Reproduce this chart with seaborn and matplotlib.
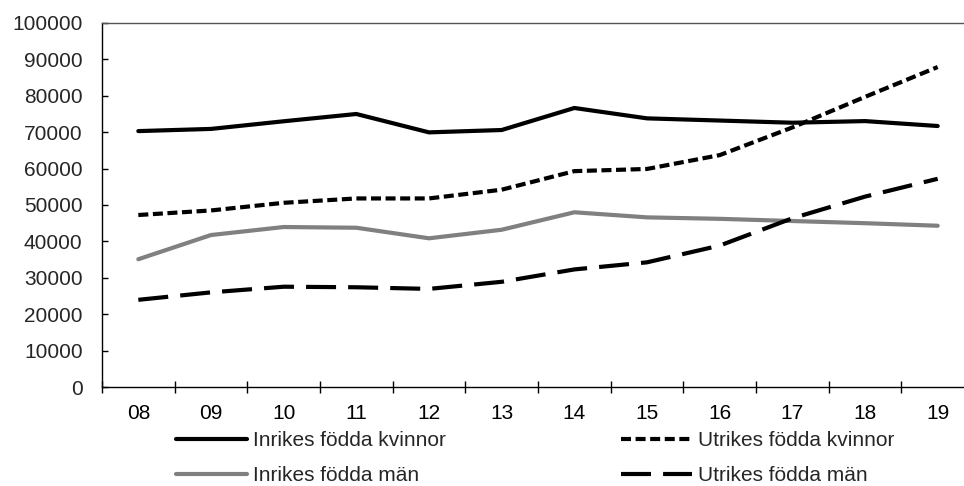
import numpy as np
import pandas as pd
import matplotlib
matplotlib.use("Agg")
from matplotlib import pyplot as plt
from matplotlib.ticker import FixedLocator
import seaborn as sns

years = ['08', '09', '10', '11', '12', '13', '14', '15', '16', '17', '18', '19']

inrikes_kvinnor = [70300, 70900, 73000, 75000, 69950, 70600, 76650, 73800, 73200, 72600, 73050, 71700]
utrikes_kvinnor = [47250, 48500, 50600, 51800, 51800, 54200, 59300, 59900, 63700, 71300, 79700, 87900]
inrikes_man = [35100, 41750, 43950, 43750, 40850, 43200, 48000, 46600, 46200, 45600, 45000, 44300]
utrikes_man = [23950, 26000, 27550, 27400, 26950, 28900, 32300, 34250, 38850, 46350, 52300, 57200]

labels = ['Inrikes födda kvinnor', 'Utrikes födda kvinnor', 'Inrikes födda män', 'Utrikes födda män']

sns.set_theme(style='white')
plt.rcParams['font.family'] = ['Liberation Sans', 'DejaVu Sans']

fig = plt.figure(figsize=(9.64, 4.86), dpi=100)
ax = fig.add_axes([0.1058, 0.2037, 0.9046, 0.749])

styles = {
    'Inrikes födda kvinnor': dict(color='black', linestyle='-'),
    'Utrikes födda kvinnor': dict(color='black', linestyle=(0, (2.4, 1.1))),
    'Inrikes födda män': dict(color='#808080', linestyle='-'),
    'Utrikes födda män': dict(color='black', linestyle=(0, (7.2, 2.9))),
}
series = dict(zip(labels, [inrikes_kvinnor, utrikes_kvinnor, inrikes_man, utrikes_man]))

for name, vals in series.items():
    df = pd.DataFrame({'year': years, 'value': vals})
    sns.lineplot(data=df, x='year', y='value', ax=ax, label=name,
                 linewidth=3, sort=False, **styles[name])

ax.set_ylim(0, 100000)
ax.set_xlim(-0.5, 11.5)
ax.set_yticks(np.arange(0, 100001, 10000))
ax.set_xlabel('')
ax.set_ylabel('')

for side in ['left', 'bottom', 'top']:
    ax.spines[side].set_visible(True)
    ax.spines[side].set_color('black')
    ax.spines[side].set_linewidth(1)
ax.spines['top'].set_color('#555555')
ax.spines['right'].set_visible(False)

ax.xaxis.set_minor_locator(FixedLocator(np.arange(-0.5, 12, 1)))
ax.tick_params(axis='x', which='major', length=0, pad=12, labelsize=15, colors='black')
ax.tick_params(axis='x', which='minor', direction='inout', length=9, width=1, color='black', bottom=True)
ax.tick_params(axis='y', which='major', direction='in', length=4, width=1, pad=14,
               labelsize=15, color='black', left=True)

h, l = ax.get_legend_handles_labels()
order = [0, 2, 1, 3]
ax.legend([h[i] for i in order], [l[i] for i in order], ncol=2, frameon=False,
          loc='upper left', bbox_to_anchor=(0.0755, -0.099), fontsize=15,
          handlelength=3.4, handletextpad=0.3, columnspacing=8.4, labelspacing=0.75,
          borderaxespad=0.0)

fig.savefig('out.png', dpi=100)
